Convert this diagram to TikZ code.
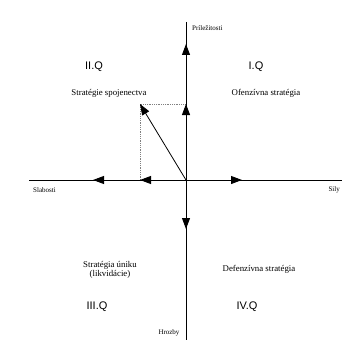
\documentclass[tikz,border=0pt]{standalone}
\usepackage{fontspec}
\setmainfont{Liberation Serif}
\newfontfamily\qfont{Liberation Sans}
\usetikzlibrary{arrows.meta}
\begin{document}
\begin{tikzpicture}[x=1pt,y=-1pt,
  axis/.style={line width=0.9pt},
  arr/.style={line width=0.9pt,-{Triangle[length=11pt,width=8pt]}},
  lbl/.style={font=\fontsize{8.8}{9.5}\selectfont, inner sep=0pt, align=center},
  small/.style={font=\fontsize{7}{8}\selectfont, inner sep=0pt},
  qlbl/.style={font=\qfont\fontsize{11}{12}\selectfont, inner sep=0pt},
  guide/.style={densely dotted, gray, line width=0.8pt}]
\fill[white] (0,0) rectangle (342,345);
\useasboundingbox (0,0) rectangle (342,345);
% axis end points
\coordinate (O) at (186,180);
\coordinate (top) at (186,22);
\coordinate (bot) at (186,340);
\coordinate (lft) at (29,180);
\coordinate (rgt) at (342,180);
\coordinate (U1) at (186,44);
\coordinate (U2) at (186,104);
\coordinate (L1) at (93,180);
\coordinate (L2) at (140,180);
\coordinate (R1) at (242,180);
\coordinate (D1) at (186,229);
\coordinate (P) at (140,104);
% axes
\draw[axis] (top) -- (bot);
\draw[axis] (lft) -- (rgt);
% guide
\draw[guide] (L2) -- (P) -- (U2);
% arrows
\draw[arr] (O) -- (U1);
\draw[arr] (O) -- (U2);
\draw[arr] (O) -- (L1);
\draw[arr] (O) -- (L2);
\draw[arr] (O) -- (R1);
\draw[arr] (O) -- (D1);
\draw[line width=0.8pt,-{Triangle[length=11pt,width=8pt]}] (O) -- (P);
% labels
\node[small, anchor=west] (prl) at (192,28) {Príležitosti};
\node[small, anchor=west] (slb) at (33,190) {Slabosti};
\node[small, anchor=east] (sil) at (340,190) {Sily};
\node[small] (hro) at (169,333) {Hrozby};
\node[qlbl] (q2) at (94,67) {II.Q};
\node[qlbl] (q1) at (256,67) {I.Q};
\node[qlbl] (q3) at (97,307) {III.Q};
\node[qlbl] (q4) at (247,307) {IV.Q};
\node[lbl] (s2) at (109,93) {Stratégie spojenectva};
\node[lbl] (s1) at (266,93) {Ofenzívna stratégia};
\node[lbl] (s3) at (110,270) {Stratégia úniku\\(likvidácie)};
\node[lbl] (s4) at (259,269) {Defenzívna stratégia};
\end{tikzpicture}
\end{document}
